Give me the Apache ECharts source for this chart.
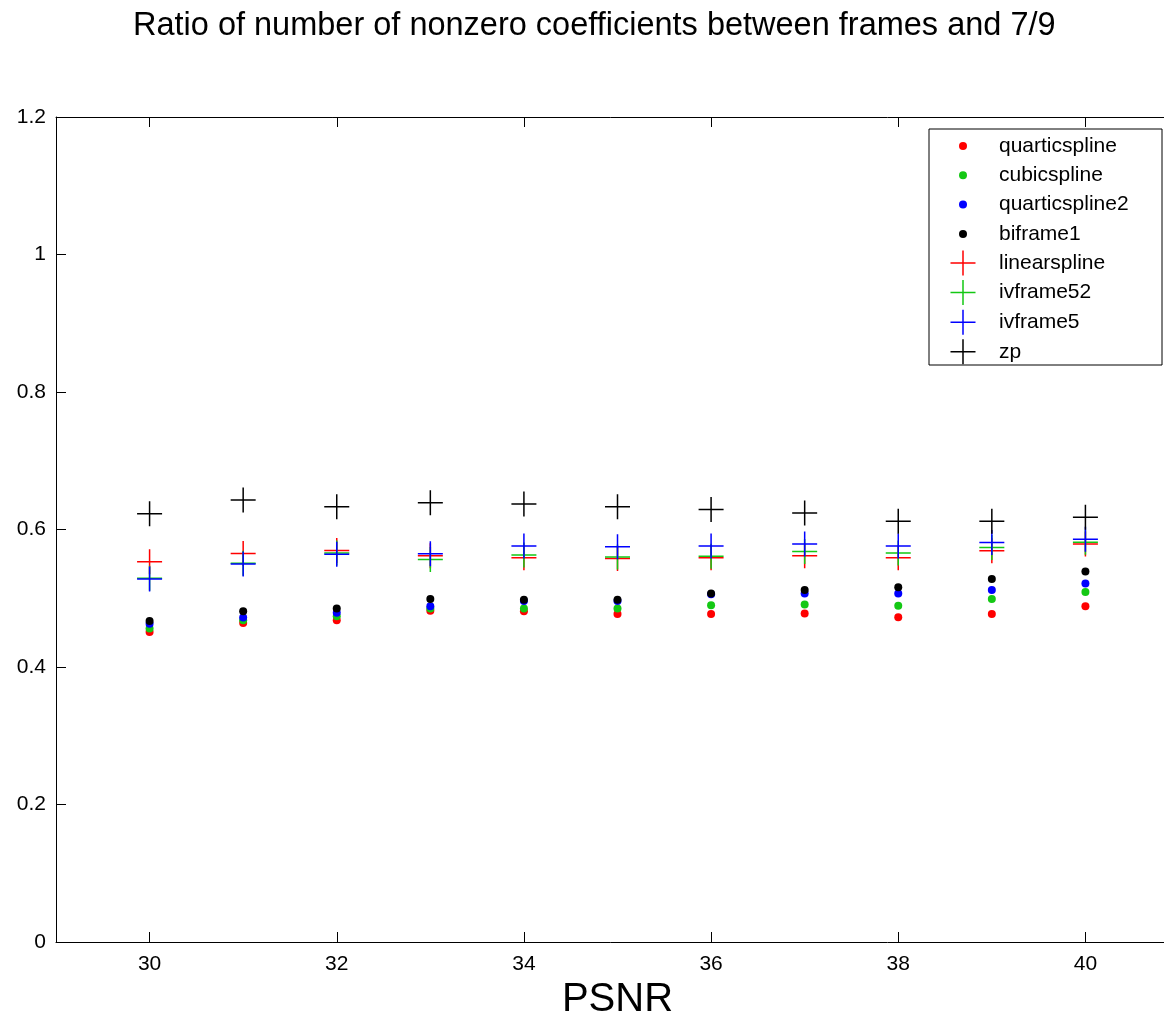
<!DOCTYPE html>
<html>
<head>
<meta charset="utf-8">
<script src="https://cdn.jsdelivr.net/npm/echarts@6/dist/echarts.min.js"></script>
<style>
  html, body { margin: 0; padding: 0; background: #fff; }
  #main { width: 1164px; height: 1021px; }
</style>
</head>
<body>
<div id="main"></div>
<script type="text/javascript">
  // data
  var psnr = [30, 31, 32, 33, 34, 35, 36, 37, 38, 39, 40];
  var xTicks = [30, 32, 34, 36, 38, 40];

  var quarticspline  = [0.451, 0.464, 0.468, 0.482, 0.481, 0.477, 0.477, 0.478, 0.4725, 0.477, 0.4885];
  var cubicspline    = [0.456, 0.468, 0.474, 0.485, 0.485, 0.485, 0.490, 0.491, 0.489, 0.499, 0.509];
  var quarticspline2 = [0.463, 0.472, 0.479, 0.4885, 0.496, 0.496, 0.506, 0.507, 0.507, 0.512, 0.5215];
  var biframe1       = [0.467, 0.481, 0.485, 0.499, 0.498, 0.498, 0.507, 0.512, 0.516, 0.528, 0.539];
  var linearspline   = [0.553, 0.565, 0.5695, 0.562, 0.559, 0.558, 0.559, 0.562, 0.559, 0.569, 0.579];
  var ivframe52      = [0.529, 0.551, 0.566, 0.5565, 0.563, 0.560, 0.561, 0.568, 0.566, 0.574, 0.5816];
  var ivframe5       = [0.528, 0.550, 0.564, 0.5646, 0.576, 0.575, 0.576, 0.579, 0.576, 0.581, 0.586];
  var zp             = [0.623, 0.643, 0.633, 0.639, 0.637, 0.633, 0.629, 0.624, 0.612, 0.612, 0.618];

  var font = 'Liberation Sans, Arial, sans-serif';
  var cross = 'path://M0,5L10,5M5,0L5,10';

  function pairs(ys) {
    return psnr.map(function (x, i) { return [x, ys[i]]; });
  }
  function dots(name, ys, color) {
    return {
      name: name, type: 'scatter', data: pairs(ys),
      symbol: 'circle', symbolSize: 8,
      itemStyle: { color: color, opacity: 1 },
      emphasis: { disabled: true }
    };
  }
  function crosses(name, ys, color) {
    return {
      name: name, type: 'scatter', data: pairs(ys),
      symbol: cross, symbolSize: 25, symbolKeepAspect: true,
      itemStyle: { color: 'none', borderColor: color, borderWidth: 1.5, opacity: 1 },
      emphasis: { disabled: true }
    };
  }

  var myChart = echarts.init(document.getElementById('main'));
  var option = {
    animation: false,
    backgroundColor: '#fff',
    title: {
      text: 'Ratio of number of nonzero coefficients between frames and 7/9',
      left: 128, top: 5,
      textStyle: { fontFamily: font, fontSize: 32.5, fontWeight: 'normal', color: '#000' }
    },
    graphic: [{
      type: 'rect', z: 1,
      shape: { x: 929, y: 129, width: 233, height: 236 },
      style: { fill: '#fff', stroke: '#000', lineWidth: 1 }
    }],
    legend: [{
      data: ['quarticspline', 'cubicspline', 'quarticspline2', 'biframe1'],
      orient: 'vertical', left: 954, top: 130,
      itemWidth: 62, itemHeight: 8, itemGap: 7.3,
      icon: 'circle',
      itemStyle: { borderWidth: 0 },
      textStyle: { fontFamily: font, fontSize: 21, color: '#000', lineHeight: 22 },
      z: 5
    }, {
      data: ['linearspline', 'ivframe52', 'ivframe5', 'zp'],
      orient: 'vertical', left: 943, top: 243,
      itemWidth: 62, itemHeight: 25, itemGap: -0.4,
      itemStyle: { borderWidth: 1.5 },
      textStyle: { fontFamily: font, fontSize: 21, color: '#000', lineHeight: 22 },
      z: 5
    }],
    grid: { left: 56, top: 117, width: 1123, height: 825, outerBoundsMode: 'none' },
    xAxis: [{
      type: 'value', min: 29, max: 41, position: 'bottom',
      name: 'PSNR', nameLocation: 'middle', nameGap: 38,
      nameTextStyle: { fontFamily: font, fontSize: 40, color: '#000' },
      axisLine: { lineStyle: { color: '#000', width: 1 } },
      axisTick: { inside: true, length: 10, customValues: xTicks, lineStyle: { color: '#000' } },
      axisLabel: { customValues: xTicks, margin: 12, fontFamily: font, fontSize: 21, color: '#000' },
      splitLine: { show: false }
    }, {
      type: 'value', min: 29, max: 41, position: 'top',
      axisLine: { show: true, lineStyle: { color: '#000', width: 1 } },
      axisTick: { inside: true, length: 10, customValues: xTicks, lineStyle: { color: '#000' } },
      axisLabel: { show: false },
      splitLine: { show: false }
    }],
    yAxis: [{
      type: 'value', min: 0, max: 1.2, interval: 0.2,
      axisLine: { show: true, lineStyle: { color: '#000', width: 1 } },
      axisTick: { show: true, inside: true, length: 10, lineStyle: { color: '#000' } },
      axisLabel: { margin: 10, fontFamily: font, fontSize: 21, color: '#000' },
      splitLine: { show: false }
    }],
    series: [
      dots('quarticspline', quarticspline, '#ff0000'),
      dots('cubicspline', cubicspline, '#14c814'),
      dots('quarticspline2', quarticspline2, '#0000ff'),
      dots('biframe1', biframe1, '#000000'),
      crosses('linearspline', linearspline, '#ff0000'),
      crosses('ivframe52', ivframe52, '#14c814'),
      crosses('ivframe5', ivframe5, '#0000ff'),
      crosses('zp', zp, '#000000')
    ]
  };
  myChart.setOption(option);
</script>
</body>
</html>
